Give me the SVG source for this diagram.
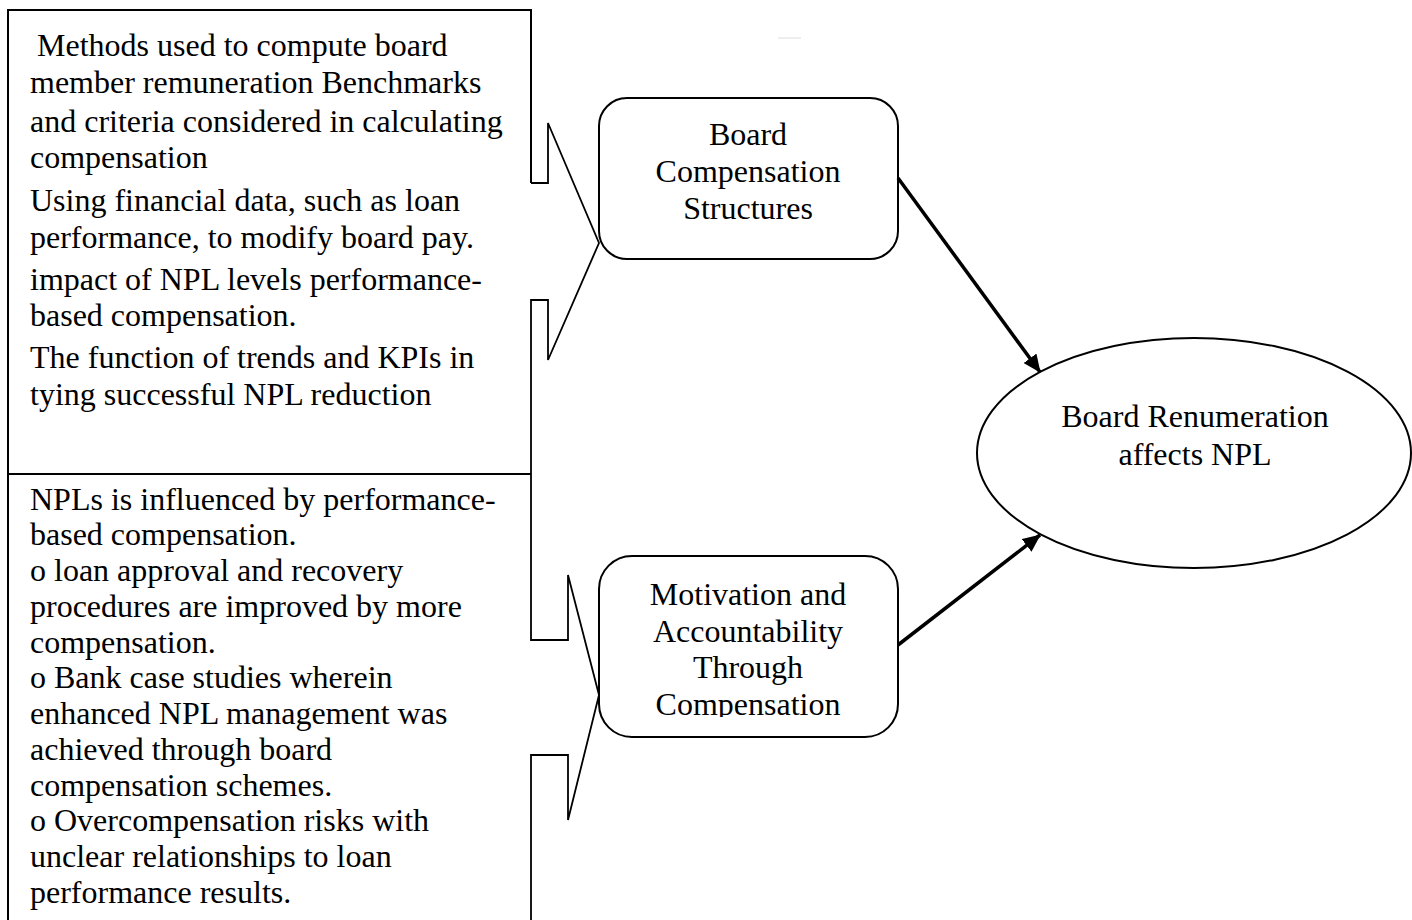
<svg xmlns="http://www.w3.org/2000/svg" width="1412" height="920" viewBox="0 0 1412 920">
<style>
.ln{fill:none;stroke:#000;stroke-width:2}
.bk{fill:none;stroke:#000;stroke-width:1.8;stroke-linejoin:miter}
.nd{fill:#fff;stroke:#000;stroke-width:2}
.t{font-family:"Liberation Serif","Times New Roman",serif;font-size:32px;fill:#000}
.c{text-anchor:middle}
.ar{stroke:#000;stroke-width:3.5;fill:none}
</style>
<defs>
<marker id="ah" markerUnits="userSpaceOnUse" markerWidth="18" markerHeight="16" refX="17" refY="8" orient="auto">
<path d="M0,0 L18,8 L0,16 z" fill="#000"/>
</marker>
<clipPath id="clip2"><rect x="600" y="560" width="297" height="157"/></clipPath>
</defs>
<rect width="1412" height="920" fill="#fff"/>
<line x1="778" y1="38" x2="801" y2="38" stroke="#ddd" stroke-width="1"/>

<g id="leftTop">
<path class="ln" d="M8,920 V10 H531 V183"/>
<line class="ln" x1="8" y1="474" x2="531" y2="474"/>
<path class="bk" d="M531,183 H548 V123 L599,243 L548,360 V300 H531 V474"/>
<text class="t" x="37" y="56">Methods used to compute board</text>
<text class="t" x="30" y="93">member remuneration Benchmarks</text>
<text class="t" x="30" y="132">and criteria considered in calculating</text>
<text class="t" x="30" y="168">compensation</text>
<text class="t" x="30" y="211">Using financial data, such as loan</text>
<text class="t" x="30" y="248">performance, to modify board pay.</text>
<text class="t" x="30" y="290">impact of NPL levels performance-</text>
<text class="t" x="30" y="326">based compensation.</text>
<text class="t" x="30" y="368">The function of trends and KPIs in</text>
<text class="t" x="30" y="405">tying successful NPL reduction</text>
</g>

<g id="leftBottom">
<path class="bk" d="M531,474 V640 H568 V575 L599,695 L568,820 V755 H531 V920"/>
<text class="t" x="30" y="510">NPLs is influenced by performance-</text>
<text class="t" x="30" y="545">based compensation.</text>
<text class="t" x="30" y="581">o loan approval and recovery</text>
<text class="t" x="30" y="617">procedures are improved by more</text>
<text class="t" x="30" y="653">compensation.</text>
<text class="t" x="30" y="688">o Bank case studies wherein</text>
<text class="t" x="30" y="724">enhanced NPL management was</text>
<text class="t" x="30" y="760">achieved through board</text>
<text class="t" x="30" y="796">compensation schemes.</text>
<text class="t" x="30" y="831">o Overcompensation risks with</text>
<text class="t" x="30" y="867">unclear relationships to loan</text>
<text class="t" x="30" y="903">performance results.</text>
</g>

<g id="boardComp">
<rect class="nd" x="599" y="98" width="299" height="161" rx="28" ry="28"/>
<text class="t c" x="748" y="145">Board</text>
<text class="t c" x="748" y="182">Compensation</text>
<text class="t c" x="748" y="219">Structures</text>
</g>

<g id="motivation">
<rect class="nd" x="599" y="556" width="299" height="181" rx="33" ry="33"/>
<g clip-path="url(#clip2)">
<text class="t c" x="748" y="605">Motivation and</text>
<text class="t c" x="748" y="642">Accountability</text>
<text class="t c" x="748" y="678">Through</text>
<text class="t c" x="748" y="715">Compensation</text>
</g>
</g>

<g id="outcome">
<ellipse class="nd" cx="1194" cy="453" rx="217" ry="115"/>
<text class="t c" x="1195" y="427">Board Renumeration</text>
<text class="t c" x="1195" y="465">affects NPL</text>
</g>

<g id="connectors">
<line class="ar" x1="898" y1="178" x2="1040" y2="372" marker-end="url(#ah)"/>
<line class="ar" x1="898" y1="645" x2="1040" y2="535" marker-end="url(#ah)"/>
</g>
</svg>
